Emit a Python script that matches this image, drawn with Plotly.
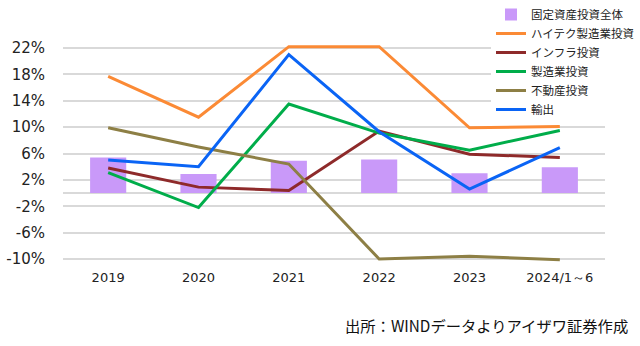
import plotly.graph_objects as go

# Year labels (last one is Jan–Jun 2024)
years = ["2019", "2020", "2021", "2022", "2023", "2024/1～6"]

# Year-on-year growth, %
fai_total = [5.4, 2.9, 4.9, 5.1, 3.0, 3.9]        # 固定資産投資全体
hitech_mfg = [17.7, 11.5, 22.2, 22.2, 9.9, 10.1]  # ハイテク製造業投資
infra = [3.8, 0.9, 0.4, 9.4, 5.9, 5.4]            # インフラ投資
mfg = [3.1, -2.2, 13.5, 9.1, 6.5, 9.5]            # 製造業投資
real_estate = [9.9, 7.0, 4.4, -10.0, -9.6, -10.1] # 不動産投資
exports = [5.0, 4.0, 21.0, 9.3, 0.6, 6.9]         # 輸出

y_ticks = [-10, -6, -2, 2, 6, 10, 14, 18, 22]
y_tick_text = [f"{v}%" for v in y_ticks]

JP_FONT = "Noto Sans CJK JP"
NUM_FONT = "DejaVu Sans"

fig = go.Figure()

fig.add_trace(go.Bar(
    x=years, y=fai_total, name="固定資産投資全体",
    marker=dict(color="#c999f9", line=dict(width=0)),
))

line_series = [
    ("ハイテク製造業投資", hitech_mfg, "#fb8a35"),
    ("インフラ投資", infra, "#8e2a2a"),
    ("製造業投資", mfg, "#00ad4a"),
    ("不動産投資", real_estate, "#8d7f45"),
    ("輸出", exports, "#0a64f5"),
]
for name, vals, color in line_series:
    fig.add_trace(go.Scatter(
        x=years, y=vals, name=name, mode="lines",
        line=dict(color=color, width=3),
    ))

# Plot area runs to the top edge; the legend sits in the empty band above 22%.
fig.update_layout(
    width=640, height=346,
    margin=dict(l=63, r=28, t=0, b=84),
    paper_bgcolor="white", plot_bgcolor="white",
    bargap=0.6,
    showlegend=True,
    legend=dict(
        x=0.79, xanchor="left",
        y=1.0, yanchor="top",
        bgcolor="white", borderwidth=0,
        font=dict(family=JP_FONT, size=11.5, color="#222222"),
        tracegroupgap=0, itemwidth=30,
    ),
    xaxis=dict(
        type="category", showgrid=False, showline=False, zeroline=False,
        ticks="outside", ticklen=3, tickcolor="rgba(0,0,0,0)",
        tickfont=dict(family=NUM_FONT, size=13, color="#222222"),
    ),
    yaxis=dict(
        range=[-10.455, 29.28],
        tickvals=y_ticks, ticktext=y_tick_text,
        showgrid=True, gridcolor="#d9d9d9", gridwidth=1.5,
        zeroline=True, zerolinecolor="#d9d9d9", zerolinewidth=1.5,
        showline=False,
        ticks="outside", ticklen=14, tickcolor="rgba(0,0,0,0)",
        tickfont=dict(family=NUM_FONT, size=15, color="#222222"),
    ),
    annotations=[dict(
        text="出所：WINDデータよりアイザワ証券作成",
        xref="paper", yref="paper", x=0.517, y=-0.2405,
        xanchor="left", yanchor="middle", showarrow=False,
        font=dict(family=JP_FONT, size=15.3, color="#111111"),
    )],
)

fig.write_html("out.html")
